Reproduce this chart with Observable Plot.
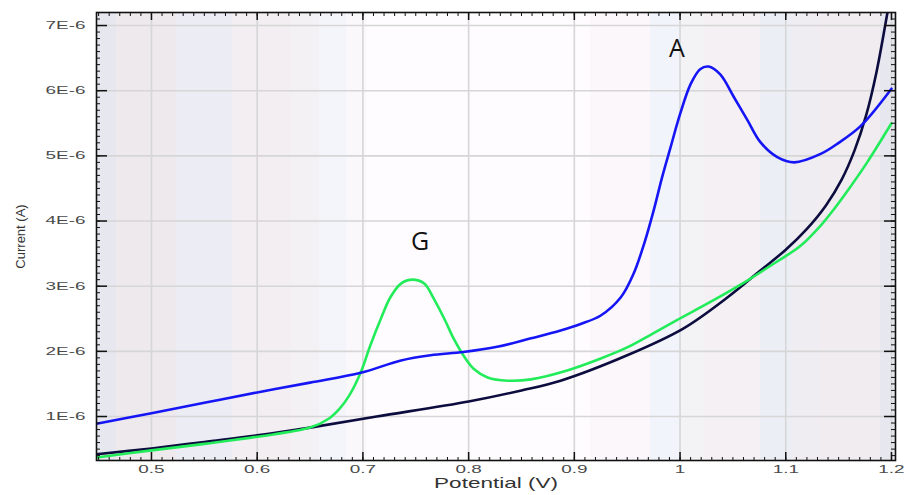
<!DOCTYPE html>
<html>
<head>
<meta charset="utf-8">
<script src="https://cdn.jsdelivr.net/npm/d3@7"></script>
<script src="https://cdn.jsdelivr.net/npm/@observablehq/plot@0.6"></script>
<style>
  html, body { margin: 0; padding: 0; background: #ffffff; }
  #chart { width: 910px; height: 495px; }
</style>
</head>
<body>
<div id="chart"></div>
<script>
// Currents are in units of 1E-6 A
const potentialBlue = [0.448, 0.50, 0.55, 0.60, 0.65, 0.698, 0.736, 0.764, 0.795, 0.827, 0.859, 0.887, 0.906, 0.925, 0.944, 0.956, 0.966, 0.975, 0.983, 0.991, 1.000, 1.010, 1.019, 1.027, 1.038, 1.051, 1.064, 1.076, 1.092, 1.108, 1.133, 1.150, 1.171, 1.200];
const currentBlue   = [0.89, 1.05, 1.21, 1.37, 1.52, 1.67, 1.86, 1.94, 1.99, 2.07, 2.20, 2.32, 2.42, 2.55, 2.83, 3.19, 3.65, 4.16, 4.67, 5.13, 5.64, 6.10, 6.33, 6.37, 6.25, 5.90, 5.54, 5.21, 4.98, 4.90, 5.03, 5.20, 5.46, 6.03];

const potentialGreen = [0.448, 0.50, 0.55, 0.60, 0.65, 0.668, 0.678, 0.687, 0.698, 0.707, 0.717, 0.726, 0.736, 0.747, 0.758, 0.767, 0.777, 0.786, 0.795, 0.805, 0.818, 0.837, 0.859, 0.894, 0.925, 0.950, 0.975, 0.997, 1.030, 1.064, 1.090, 1.114, 1.133, 1.145, 1.160, 1.177, 1.200];
const currentGreen   = [0.37, 0.48, 0.58, 0.69, 0.83, 0.97, 1.12, 1.32, 1.68, 2.09, 2.50, 2.83, 3.04, 3.10, 3.04, 2.81, 2.50, 2.19, 1.94, 1.73, 1.60, 1.55, 1.57, 1.71, 1.89, 2.06, 2.28, 2.48, 2.77, 3.09, 3.36, 3.62, 3.93, 4.17, 4.50, 4.90, 5.50];

const potentialNavy = [0.448, 0.50, 0.55, 0.60, 0.65, 0.713, 0.80, 0.85, 0.887, 0.950, 1.003, 1.045, 1.076, 1.100, 1.120, 1.138, 1.153, 1.165, 1.176, 1.186, 1.196, 1.205];
const currentNavy   = [0.42, 0.51, 0.61, 0.71, 0.83, 1.00, 1.23, 1.40, 1.55, 1.94, 2.35, 2.83, 3.24, 3.56, 3.88, 4.24, 4.64, 5.08, 5.62, 6.30, 7.18, 8.00];

const xTicks = [0.5, 0.6, 0.7, 0.8, 0.9, 1.0, 1.1, 1.2];
const yTicks = [1, 2, 3, 4, 5, 6, 7];
const peakLabels = ["A", "G"];
const peakPotential = [0.997, 0.754];
const peakCurrent = [6.64, 3.68];

const xDomain = [0.448, 1.2038];
const yDomain = [0.325, 7.2];

const toRows = (xs, ys) => xs.map((x, i) => ({x, y: ys[i]}));
const blue = toRows(potentialBlue, currentBlue);
const green = toRows(potentialGreen, currentGreen);
const navy = toRows(potentialNavy, currentNavy);
const peaks = peakLabels.map((t, i) => ({t, x: peakPotential[i], y: peakCurrent[i]}));

const xMinor = d3.range(45, 121).map(d => d / 100);
const yMinor = d3.range(4, 73).map(d => d / 10);

const W = 910, H = 495, mL = 96, mR = 15, mT = 12, mB = 35;
const fw = W - mL - mR, fh = H - mT - mB;
const axisColor = "#111";

const chart = Plot.plot({
  width: W, height: H,
  marginLeft: mL, marginRight: mR, marginTop: mT, marginBottom: mB,
  style: {fontFamily: "'Liberation Sans', Arial, sans-serif", fontSize: "10.5px", color: "#444", background: "#ffffff"},
  x: {domain: xDomain, axis: null},
  y: {domain: yDomain, axis: null},
  marks: [
    Plot.frame({fill: "url(#bgGrad)", stroke: null}),
    Plot.ruleX(xTicks, {x: d => d, stroke: "#d6d6d6", strokeWidth: 1.6}),
    Plot.ruleY(yTicks, {y: d => d, stroke: "#d6d6d6", strokeWidth: 1.6}),
    Plot.line(navy, {x: "x", y: "y", stroke: "#0c0c3e", strokeWidth: 2.6, curve: "catmull-rom", clip: true}),
    Plot.line(green, {x: "x", y: "y", stroke: "#22ec5a", strokeWidth: 2.6, curve: "catmull-rom", clip: true}),
    Plot.line(blue, {x: "x", y: "y", stroke: "#1515f5", strokeWidth: 2.6, curve: "catmull-rom", clip: true}),
    Plot.text(peaks, {x: "x", y: "y", text: "t", fontSize: 25, fill: "#111", fontFamily: "'Open Sans', 'Noto Sans', sans-serif"}),
    // inward ticks
    Plot.tickX(xMinor, {x: d => d, insetTop: fh - 3, stroke: axisColor, strokeWidth: 1}),
    Plot.tickX(xTicks, {x: d => d, insetTop: fh - 8, stroke: axisColor, strokeWidth: 1.5}),
    Plot.tickX(xMinor, {x: d => d, insetBottom: fh - 4, stroke: axisColor, strokeWidth: 1}),
    Plot.tickX(xTicks, {x: d => d, insetBottom: fh - 8, stroke: axisColor, strokeWidth: 1.5}),
    Plot.tickY(yMinor, {y: d => d, insetRight: fw - 4, stroke: axisColor, strokeWidth: 1}),
    Plot.tickY(yTicks, {y: d => d, insetRight: fw - 11, stroke: axisColor, strokeWidth: 1.5}),
    Plot.tickY(yMinor, {y: d => d, insetLeft: fw - 4, stroke: axisColor, strokeWidth: 1}),
    Plot.tickY(yTicks, {y: d => d, insetLeft: fw - 11, stroke: axisColor, strokeWidth: 1.5}),
    Plot.frame({stroke: axisColor, strokeWidth: 1.6}),
    Plot.axisX(xTicks, {anchor: "bottom", tickSize: 0, tickPadding: 5, label: null, tickFormat: d => String(+d.toFixed(1)), fill: "#4a4a4a"}),
    Plot.axisY(yTicks, {anchor: "left", tickSize: 0, tickPadding: 11, label: null, tickFormat: d => `${d}E-6`, fill: "#4a4a4a"}),
    Plot.text(["Potential (V)"], {frameAnchor: "bottom", dy: 27, text: d => d, fontSize: 15, fill: "#333"}),
    Plot.text(["Current (A)"], {frameAnchor: "left", textAnchor: "middle", dx: -76, dy: 0, rotate: -90, text: d => d, fontSize: 13, fill: "#333"})
  ]
});

// background stripes (decorative)
const stops = [
  [0.000, "#e6e7ef"], [0.025, "#e6e7ef"],
  [0.025, "#eee9ec"], [0.100, "#eee9ec"],
  [0.100, "#ebecf4"], [0.170, "#ebecf4"],
  [0.170, "#f2eef1"], [0.243, "#f2eef1"],
  [0.243, "#f3f1f3"], [0.278, "#f3f1f3"],
  [0.278, "#f4f5fb"], [0.312, "#f4f5fb"],
  [0.312, "#fbf8fb"], [0.337, "#fbf8fb"],
  [0.337, "#fefcfe"], [0.618, "#fefcfe"],
  [0.618, "#fcf7fb"], [0.693, "#fcf7fb"],
  [0.693, "#f2f4fb"], [0.731, "#f2f4fb"],
  [0.731, "#f3f2f4"], [0.762, "#f3f2f4"],
  [0.762, "#f4f0f3"], [0.831, "#f4f0f3"],
  [0.831, "#eceef6"], [0.869, "#eceef6"],
  [0.869, "#efedf2"], [0.906, "#efedf2"],
  [0.906, "#f0ecef"], [0.981, "#f0ecef"],
  [0.981, "#e6e7ef"], [1.000, "#e6e7ef"]
];
const grad = d3.select(chart).insert("defs", ":first-child")
  .append("linearGradient").attr("id", "bgGrad")
  .attr("x1", 0).attr("x2", 1).attr("y1", 0).attr("y2", 0);
stops.forEach(([o, c]) => grad.append("stop").attr("offset", o).attr("stop-color", c));

document.getElementById("chart").appendChild(chart);

// the reference's horizontal text is horizontally stretched
const stretch = (sel, k) => sel.each(function () {
  const len = this.getComputedTextLength();
  if (len > 0) {
    this.setAttribute("textLength", (len * k).toFixed(1));
    this.setAttribute("lengthAdjust", "spacingAndGlyphs");
  }
});
stretch(d3.select(chart).selectAll('g[aria-label="x-axis tick label"] text, g[aria-label="y-axis tick label"] text'), 1.8);
stretch(d3.select(chart).selectAll("text").filter(function () { return this.textContent === "Potential (V)"; }), 1.5);
</script>
</body>
</html>
